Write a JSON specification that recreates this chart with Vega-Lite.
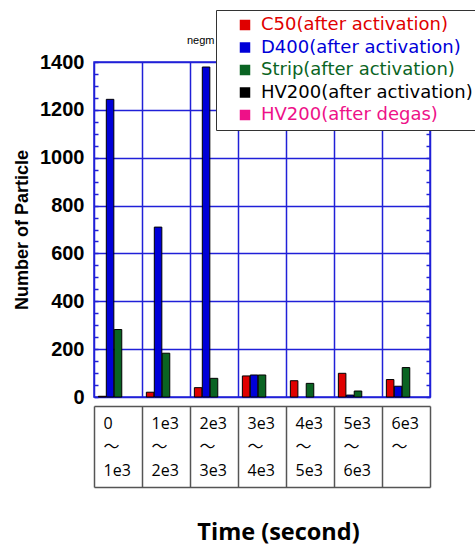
{
  "$schema": "https://vega.github.io/schema/vega-lite/v6.json",
  "autosize": {"type": "none"},
  "padding": {"left": 94, "top": 62, "right": 45, "bottom": 149},
  "width": 336,
  "height": 335,
  "background": "white",
  "title": {"text": "negm", "anchor": "start", "frame": "group", "dx": 93, "offset": -36, "fontSize": 11, "fontWeight": "normal", "font": "Liberation Sans", "color": "#000"},
  "config": {"view": {"stroke": "#2020d8", "strokeWidth": 1.5}},
  "data": {"values": [
    {"time": "0|～|1e3", "series": "C50(after activation)", "value": 3},
    {"time": "0|～|1e3", "series": "D400(after activation)", "value": 1244},
    {"time": "0|～|1e3", "series": "Strip(after activation)", "value": 282},
    {"time": "1e3|～|2e3", "series": "C50(after activation)", "value": 20},
    {"time": "1e3|～|2e3", "series": "D400(after activation)", "value": 710},
    {"time": "1e3|～|2e3", "series": "Strip(after activation)", "value": 183},
    {"time": "2e3|～|3e3", "series": "C50(after activation)", "value": 39},
    {"time": "2e3|～|3e3", "series": "D400(after activation)", "value": 1379},
    {"time": "2e3|～|3e3", "series": "Strip(after activation)", "value": 78},
    {"time": "3e3|～|4e3", "series": "C50(after activation)", "value": 88},
    {"time": "3e3|～|4e3", "series": "D400(after activation)", "value": 92},
    {"time": "3e3|～|4e3", "series": "Strip(after activation)", "value": 92},
    {"time": "4e3|～|5e3", "series": "C50(after activation)", "value": 68},
    {"time": "4e3|～|5e3", "series": "Strip(after activation)", "value": 57},
    {"time": "5e3|～|6e3", "series": "C50(after activation)", "value": 99},
    {"time": "5e3|～|6e3", "series": "D400(after activation)", "value": 8},
    {"time": "5e3|～|6e3", "series": "Strip(after activation)", "value": 25},
    {"time": "6e3|～|", "series": "C50(after activation)", "value": 73},
    {"time": "6e3|～|", "series": "D400(after activation)", "value": 45},
    {"time": "6e3|～|", "series": "Strip(after activation)", "value": 123}
  ]},
  "resolve": {"axis": {"x": "independent", "y": "independent"}},
  "layer": [
    {
      "mark": {"type": "bar", "stroke": "#000", "strokeWidth": 1},
      "encoding": {
        "x": {
          "field": "time", "type": "nominal", "sort": null,
          "scale": {"paddingInner": 0, "paddingOuter": 0},
          "axis": {
            "orient": "bottom", "offset": 9, "title": null,
            "domainColor": "#555", "domainWidth": 1.5,
            "ticks": true, "tickBand": "extent", "tickSize": 81, "tickColor": "#555", "tickWidth": 1.5,
            "grid": true, "gridColor": "#2020d8", "gridWidth": 1.5, "gridOpacity": 1,
            "labelExpr": "split(datum.label, '|')",
            "labelAngle": 0, "labelAlign": "left", "labelBaseline": "top",
            "labelOffset": -15, "labelPadding": -72, "labelLineHeight": 23.5,
            "labelFont": "Open Sans, Noto Sans CJK JP", "labelFontSize": 16, "labelColor": "#000",
            "labelOverlap": false, "labelFlush": false, "labelBound": false
          }
        },
        "xOffset": {
          "field": "series", "type": "nominal",
          "scale": {"domain": ["C50(after activation)", "D400(after activation)", "Strip(after activation)", "HV200(after activation)", "HV200(after degas)"], "paddingInner": 0.05, "paddingOuter": 0.55}
        },
        "y": {
          "field": "value", "type": "quantitative",
          "scale": {"domain": [0, 1400], "nice": false},
          "axis": {
            "orient": "left", "values": [0, 200, 400, 600, 800, 1000, 1200, 1400], "format": "d",
            "title": "Number of Particle", "titleFont": "Liberation Sans", "titleFontSize": 18, "titleFontWeight": "bold", "titleColor": "#000", "titlePadding": 8,
            "domain": false, "ticks": false,
            "grid": true, "gridColor": "#2020d8", "gridWidth": 1.5, "gridOpacity": 1,
            "labelFont": "Liberation Sans", "labelFontSize": 20, "labelFontWeight": "bold", "labelColor": "#000", "labelPadding": 10
          }
        },
        "color": {
          "field": "series", "type": "nominal",
          "scale": {
            "domain": ["C50(after activation)", "D400(after activation)", "Strip(after activation)", "HV200(after activation)", "HV200(after degas)"],
            "range": ["#e00000", "#0000d8", "#0a6423", "#000000", "#ee1188"]
          },
          "legend": {
            "title": null, "orient": "none", "legendX": 122, "legendY": -52,
            "strokeColor": "#333", "fillColor": "white", "padding": 6,
            "symbolType": "square", "symbolSize": 110, "symbolStrokeWidth": 0, "symbolOffset": 14,
            "labelFont": "DejaVu Sans", "labelFontSize": 18, "labelOffset": 7, "labelLimit": 400,
            "labelColor": {"expr": "scale('color', datum.value)"},
            "rowPadding": 4.5, "clipHeight": 18
          }
        }
      }
    },
    {
      "mark": {"type": "point", "opacity": 0},
      "encoding": {
        "x": {
          "field": "time", "type": "nominal", "sort": null,
          "axis": {
            "orient": "bottom", "offset": 90,
            "domainColor": "#555", "domainWidth": 1.5, "ticks": false, "labels": false, "grid": false,
            "title": "Time (second)", "titleFont": "Open Sans", "titleFontSize": 23.5, "titleFontWeight": "bold", "titleColor": "#000", "titlePadding": 33,
            "titleX": 184, "titleAlign": "center"
          }
        },
        "y": {
          "field": "value", "type": "quantitative",
          "axis": {"orient": "left", "values": [0,50,100,150,200,250,300,350,400,450,500,550,600,650,700,750,800,850,900,950,1000,1050,1100,1150,1200,1250,1300,1350,1400], "domain": false, "labels": false, "grid": false, "title": null, "tickSize": -4, "tickColor": "#2020d8", "tickWidth": 1.5}
        }
      }
    },
    {
      "mark": {"type": "point", "opacity": 0},
      "encoding": {
        "x": {"field": "time", "type": "nominal", "sort": null, "axis": null},
        "y": {
          "field": "value", "type": "quantitative",
          "axis": {"orient": "right", "values": [0,50,100,150,200,250,300,350,400,450,500,550,600,650,700,750,800,850,900,950,1000,1050,1100,1150,1200,1250,1300,1350,1400], "domain": false, "labels": false, "grid": false, "title": null, "tickSize": -4, "tickColor": "#2020d8", "tickWidth": 1.5}
        }
      }
    }
  ]
}
